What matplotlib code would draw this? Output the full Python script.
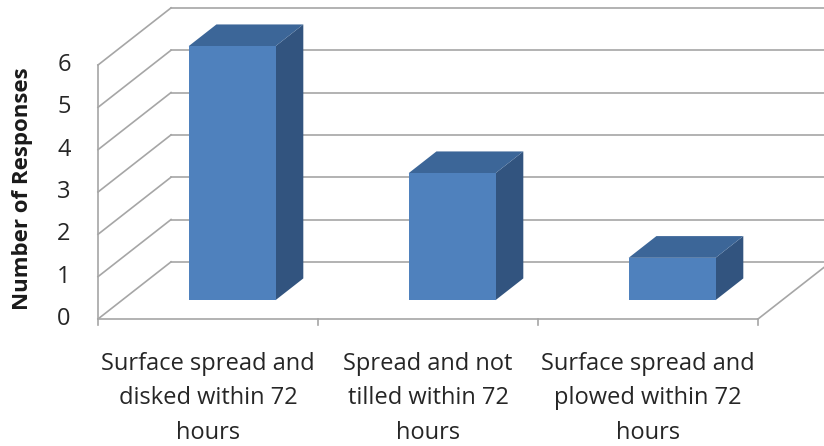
import numpy as np
import matplotlib.pyplot as plt
from matplotlib.patches import Polygon

categories = ['Surface spread and\ndisked within 72\nhours',
              'Spread and not\ntilled within 72\nhours',
              'Surface spread and\nplowed within 72\nhours']
responses = [6, 3, 1]
yticks = [0, 1, 2, 3, 4, 5, 6]

# fake 3d: offset of the back wall relative to the front plane (data units)
dx, dy = 0.332, 1.35
d0, d1 = 0.33, 0.71      # bar front/back depth fraction
bar_w = 0.395

grid_col = '#a6a6a6'
front_col = '#4f81bd'
top_col = '#3c6698'
side_col = '#32547f'

fig = plt.figure(figsize=(8.24, 4.46), dpi=100)
ax = fig.add_axes([0, 0, 1, 1])
ax.set_xlim(-98 / 220, (824 - 98) / 220)
ax.set_ylim((319 - 446) / 42.33, 319 / 42.33)
ax.axis('off')

n = len(categories)
lw = 1.2

# back wall gridlines + left wall diagonals
for v in yticks:
    ax.plot([dx, n + dx], [v + dy, v + dy], color=grid_col, lw=lw, zorder=1)
    ax.plot([0, dx], [v, v + dy], color=grid_col, lw=lw, zorder=1)
# left wall front edge
ax.plot([0, 0], [0, yticks[-1]], color=grid_col, lw=lw, zorder=1)
# floor
ax.plot([0, n], [0, 0], color=grid_col, lw=lw, zorder=1)
ax.plot([n, n + dx], [0, dy], color=grid_col, lw=lw, zorder=1)
for i in range(n + 1):
    ax.plot([i, i], [0, -0.15], color=grid_col, lw=lw, zorder=1)

# bars
for i, v in enumerate(responses):
    x0 = i + 0.5 - bar_w / 2
    x1 = i + 0.5 + bar_w / 2
    fx, fy = d0 * dx, d0 * dy
    bx, by = d1 * dx, d1 * dy
    front = [(x0 + fx, fy), (x1 + fx, fy), (x1 + fx, v + fy), (x0 + fx, v + fy)]
    top = [(x0 + fx, v + fy), (x1 + fx, v + fy), (x1 + bx, v + by), (x0 + bx, v + by)]
    side = [(x1 + fx, fy), (x1 + bx, by), (x1 + bx, v + by), (x1 + fx, v + fy)]
    ax.add_patch(Polygon(side, closed=True, facecolor=side_col, edgecolor='none', zorder=3))
    ax.add_patch(Polygon(top, closed=True, facecolor=top_col, edgecolor='none', zorder=3))
    ax.add_patch(Polygon(front, closed=True, facecolor=front_col, edgecolor='none', zorder=4))

font = 'Open Sans'
for v in yticks:
    ax.text(-0.155, v, str(v), ha='center', va='center', fontsize=17,
            family=font, color='#262626')

for i, lab in enumerate(categories):
    ax.text(i + 0.5, -1.87, lab, ha='center', va='center', fontsize=17,
            family=font, color='#262626', linespacing=1.58)

ax.text(-0.345, 3.09, 'Number of Responses', rotation=90, ha='center', va='center',
        fontsize=16, fontweight='bold', family=font, color='#1a1a1a')

fig.savefig('out.png', dpi=100)
